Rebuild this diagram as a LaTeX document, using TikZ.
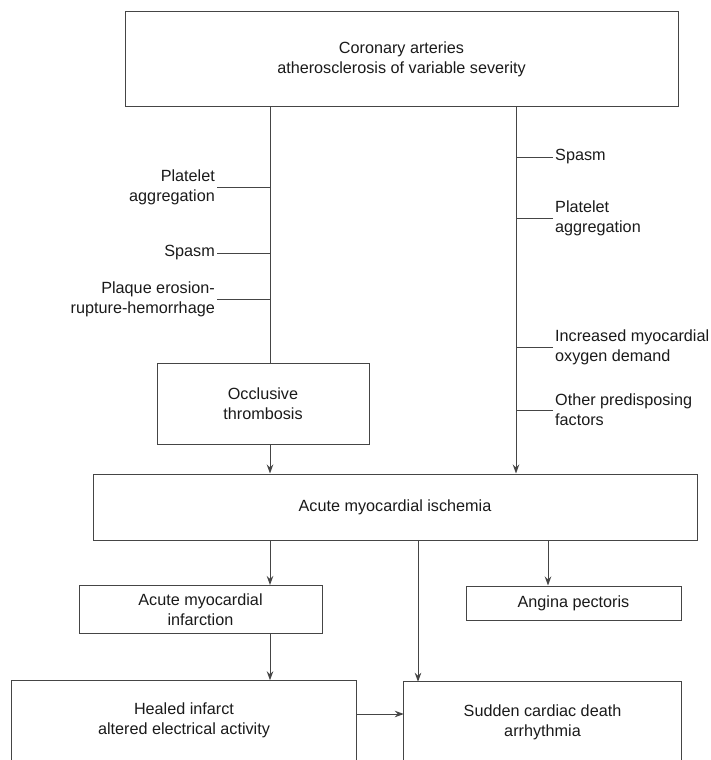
\documentclass[tikz,border=0pt]{standalone}
\usepackage{fontspec}
\setmainfont{Liberation Sans}
\usetikzlibrary{arrows.meta}
\definecolor{ln}{HTML}{454545}
\definecolor{tx}{HTML}{1A1A1A}
\begin{document}
\begin{tikzpicture}[x=1pt,y=-1pt,
  every node/.style={font=\fontsize{16.2}{20}\selectfont, text=tx, align=center},
  box/.style={draw=ln, line width=1pt, inner sep=0pt},
  open/.style={draw=none, inner sep=0pt},
  conn/.style={draw=ln, line width=1pt},
  arr/.style={conn, -{Stealth[length=9pt,width=6.5pt]}},
  lbl/.style={inner sep=2pt}
]
\useasboundingbox (0,0) rectangle (711,760);
\coordinate (L) at (270,0);
\coordinate (R) at (516,0);
\coordinate (hy) at (0,714);

\node[box, minimum width=553pt, minimum height=94pt] (top) at (401.5,59)
  {Coronary arteries\\atherosclerosis of variable severity};
\node[box, minimum width=212pt, minimum height=81pt] (occ) at (263,403.5)
  {Occlusive\\thrombosis};
\node[box, minimum width=604pt, minimum height=66pt] (isch) at (395,507)
  {Acute myocardial ischemia};
\node[box, minimum width=243pt, minimum height=48pt] (inf) at (200.5,609.5)
  {Acute myocardial\\infarction};
\node[box, minimum width=215pt, minimum height=34pt] (ang) at (573.5,603)
  {Angina pectoris};
\node[open, minimum width=344pt, minimum height=80pt] (heal) at (184,720.5)
  {Healed infarct\\altered electrical activity};
\node[open, minimum width=277pt, minimum height=80pt] (sud) at (542.5,722)
  {Sudden cardiac death\\arrhythmia};
\draw[conn] (heal.south west) -- (heal.north west) -- (heal.north east) -- (heal.south east);
\draw[conn] (sud.south west) -- (sud.north west) -- (sud.north east) -- (sud.south east);

% left labels
\node[lbl, anchor=east, align=right] (lpa) at (217,187) {Platelet\\aggregation};
\node[lbl, anchor=east, align=right] (lsp) at (217,253) {Spasm};
\node[lbl, anchor=east, align=right] (lpl) at (217,299.5) {Plaque erosion-\\rupture-hemorrhage};
% right labels
\node[lbl, anchor=west, align=left] (rsp) at (553,157) {Spasm};
\node[lbl, anchor=west, align=left] (rpa) at (553,218) {Platelet\\aggregation};
\node[lbl, anchor=west, align=left] (rin) at (553,347) {Increased myocardial\\oxygen demand};
\node[lbl, anchor=west, align=left] (rot) at (553,410) {Other predisposing\\factors};

% vertical connectors
\draw[conn] (top.south -| L) -- (occ.north -| L);
\draw[arr] (top.south -| R) -- (isch.north -| R);
\foreach \n in {lpa,lsp,lpl} \draw[conn] (\n.east) -- (\n.east -| L);
\foreach \n in {rsp,rpa,rin,rot} \draw[conn] (\n.west) -- (\n.west -| R);

\draw[arr] (occ.south -| L) -- (isch.north -| L);
\draw[arr] (isch.south -| L) -- (inf.north -| L);
\coordinate (M) at (418,0);
\coordinate (A) at (548,0);
\draw[arr] (isch.south -| M) -- (sud.north -| M);
\draw[arr] (isch.south -| A) -- (ang.north -| A);
\draw[arr] (inf.south -| L) -- (heal.north -| L);
\draw[arr] (heal.east |- hy) -- (sud.west |- hy);
\end{tikzpicture}
\end{document}
